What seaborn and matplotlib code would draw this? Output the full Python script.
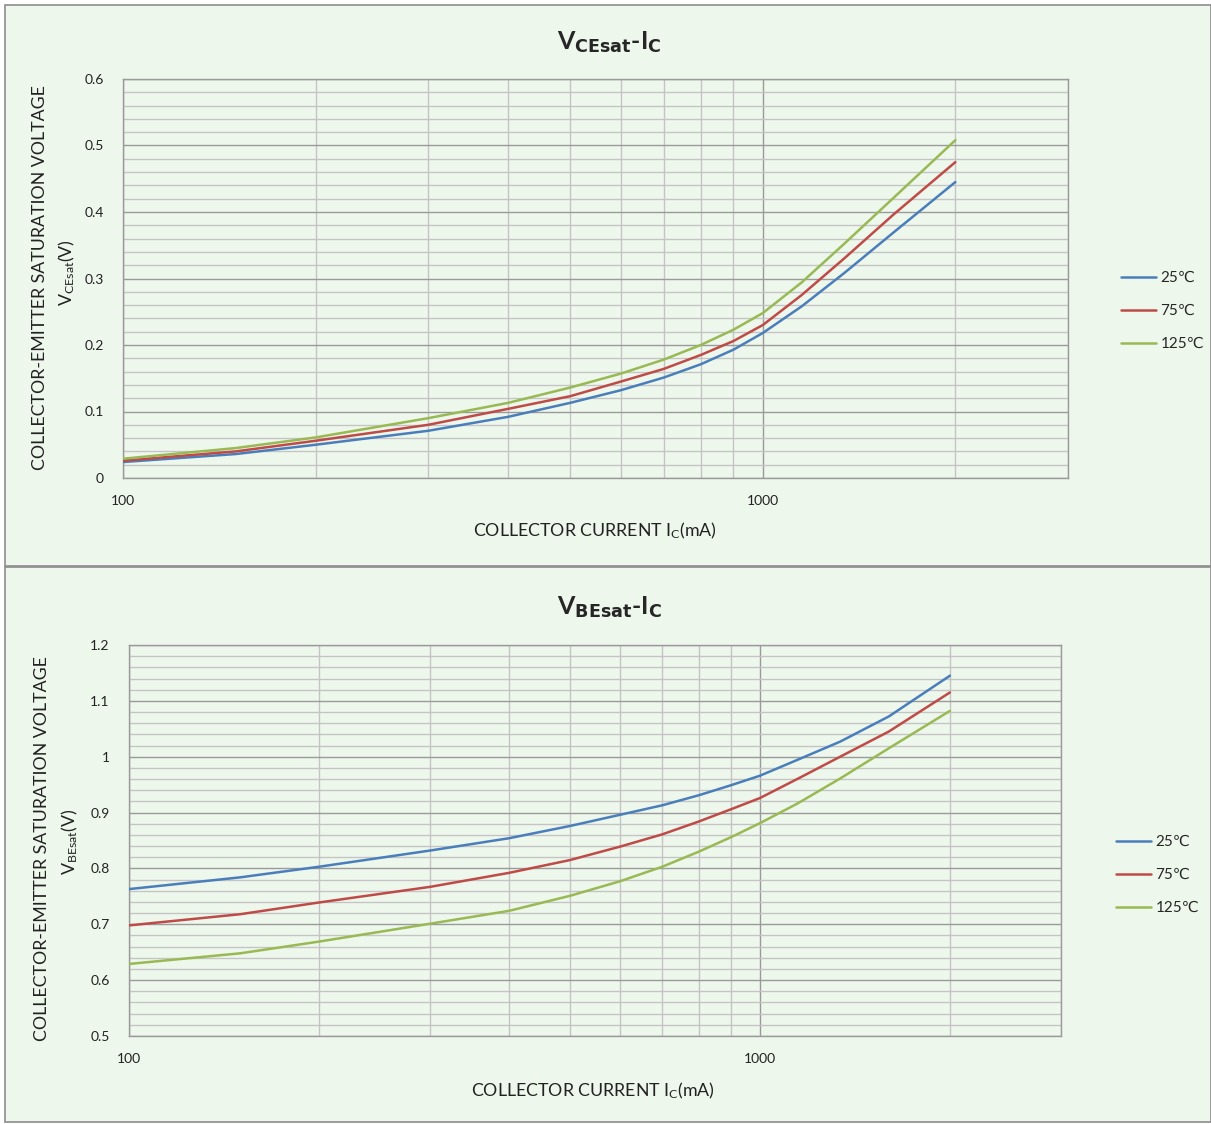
import numpy as np
import pandas as pd
import matplotlib
matplotlib.use("Agg")
import matplotlib.pyplot as plt
from matplotlib.patches import Rectangle
from matplotlib.ticker import FixedLocator, MultipleLocator, NullFormatter
import seaborn as sns

# collector current (mA)
ic_ma = [100, 150, 200, 300, 400, 500, 600, 700, 800, 900, 1000, 1150, 1340, 1600, 2000]
temps = ["25\u2103", "75\u2103", "125\u2103"]

# VCEsat (V)
vce_25 = [0.024, 0.036, 0.050, 0.071, 0.092, 0.113, 0.132, 0.151, 0.171, 0.193, 0.218, 0.258, 0.308, 0.369, 0.445]
vce_75 = [0.026, 0.040, 0.056, 0.080, 0.104, 0.123, 0.145, 0.164, 0.185, 0.206, 0.230, 0.275, 0.330, 0.396, 0.475]
vce_125 = [0.029, 0.045, 0.061, 0.090, 0.113, 0.136, 0.157, 0.178, 0.200, 0.223, 0.248, 0.294, 0.352, 0.421, 0.508]

# VBEsat (V)
vbe_25 = [0.763, 0.784, 0.803, 0.832, 0.854, 0.876, 0.896, 0.913, 0.931, 0.949, 0.966, 0.995, 1.027, 1.072, 1.145]
vbe_75 = [0.698, 0.718, 0.739, 0.767, 0.792, 0.815, 0.839, 0.861, 0.884, 0.906, 0.926, 0.961, 1.000, 1.045, 1.115]
vbe_125 = [0.629, 0.648, 0.669, 0.701, 0.724, 0.751, 0.777, 0.803, 0.830, 0.856, 0.881, 0.917, 0.961, 1.015, 1.082]

colors = ["#4A7EBB", "#BE4B48", "#98B954"]
bg = "#EEF7EC"


def to_long(series):
    frames = []
    for t, vals in zip(temps, series):
        frames.append(pd.DataFrame({"Ic": ic_ma, "V": vals, "T": t}))
    return pd.concat(frames, ignore_index=True)


sns.set_style("white")
plt.rcParams["font.family"] = ["Lato", "DejaVu Sans"]
plt.rcParams["mathtext.default"] = "regular"

fig = plt.figure(figsize=(12.11, 11.24), dpi=100)
fig.patch.set_facecolor("white")

# the two chart panels, behind the axes
for y0, h in [(1 - 566 / 1124, 561 / 1124), (1 - 1122 / 1124, 555 / 1124)]:
    fig.patches.append(Rectangle((5 / 1211, y0), 1 - 5 / 1211, h, transform=fig.transFigure,
                                 facecolor=bg, edgecolor="#8C8C8C", lw=1.2, zorder=-5))


def draw_panel(rect, df, ylim, title, ylab2, leg_xy, title_xy, ylab_xy, ylab2_xy, xlab_xy):
    ax = fig.add_axes(rect)
    ax.set_facecolor(bg)
    sns.lineplot(data=df, x="Ic", y="V", hue="T", palette=colors, lw=1.8, ax=ax, zorder=3)
    ax.set_xscale("log")
    ax.set_xlim(100, 3000)
    ax.set_ylim(*ylim)

    ax.xaxis.set_major_locator(FixedLocator([100, 1000]))
    ax.xaxis.set_minor_locator(FixedLocator([200, 300, 400, 500, 600, 700, 800, 900, 2000, 3000]))
    ax.xaxis.set_minor_formatter(NullFormatter())
    ax.set_xticklabels(["100", "1000"])
    ax.yaxis.set_major_locator(MultipleLocator(0.1))
    ax.yaxis.set_minor_locator(MultipleLocator(0.02))
    ax.set_yticks(ax.get_yticks())
    ax.set_yticklabels([f"{v:g}" for v in ax.get_yticks()])
    ax.set_ylim(*ylim)

    ax.grid(which="major", color="#9A9A9A", lw=1.0)
    ax.grid(which="minor", color="#C4C4C4", lw=1.0)
    ax.set_axisbelow(True)
    for s in ax.spines.values():
        s.set_color("#9A9A9A")
        s.set_linewidth(1.0)
    ax.tick_params(which="both", length=0)
    ax.tick_params(axis="y", labelsize=10, pad=14, labelcolor="#222222")
    ax.tick_params(axis="x", labelsize=10, pad=12, labelcolor="#222222")
    ax.set_xlabel("")
    ax.set_ylabel("")

    ax.legend(loc="center left", bbox_to_anchor=leg_xy, bbox_transform=fig.transFigure,
              frameon=False, fontsize=11, handlelength=2.3, handletextpad=0.3,
              labelspacing=1.25, borderpad=0, title=None)

    fig.text(*title_xy, title, ha="center", va="center", fontsize=18, fontweight="bold")
    fig.text(*ylab_xy, "COLLECTOR-EMITTER SATURATION VOLTAGE", rotation=90,
             ha="center", va="center", fontsize=12.8, color="#222222")
    fig.text(*ylab2_xy, ylab2, rotation=90, ha="center", va="center", fontsize=12.8, color="#222222")
    fig.text(*xlab_xy, "COLLECTOR CURRENT I$_{C}$(mA)", ha="center", va="center",
             fontsize=12.8, color="#222222")
    return ax


draw_panel([123 / 1211, 1 - 478 / 1124, 945 / 1211, 399 / 1124],
           to_long([vce_25, vce_75, vce_125]), (0, 0.6),
           "V$_{\\mathbf{CEsat}}$-I$_{\\mathbf{C}}$", "V$_{CEsat}$(V)",
           (1113 / 1211, 1 - 311 / 1124), (0.503, 1 - 42 / 1124),
           (40 / 1211, 1 - 278 / 1124), (67 / 1211, 1 - 273 / 1124), (595 / 1211, 1 - 531 / 1124))

draw_panel([129 / 1211, 1 - 1036 / 1124, 932 / 1211, 391 / 1124],
           to_long([vbe_25, vbe_75, vbe_125]), (0.5, 1.2),
           "V$_{\\mathbf{BEsat}}$-I$_{\\mathbf{C}}$", "V$_{BEsat}$(V)",
           (1108 / 1211, 1 - 875 / 1124), (0.503, 1 - 607 / 1124),
           (42 / 1211, 1 - 849 / 1124), (70 / 1211, 1 - 842 / 1124), (593 / 1211, 1 - 1091 / 1124))

fig.savefig("out.png", dpi=100, facecolor=fig.get_facecolor())
